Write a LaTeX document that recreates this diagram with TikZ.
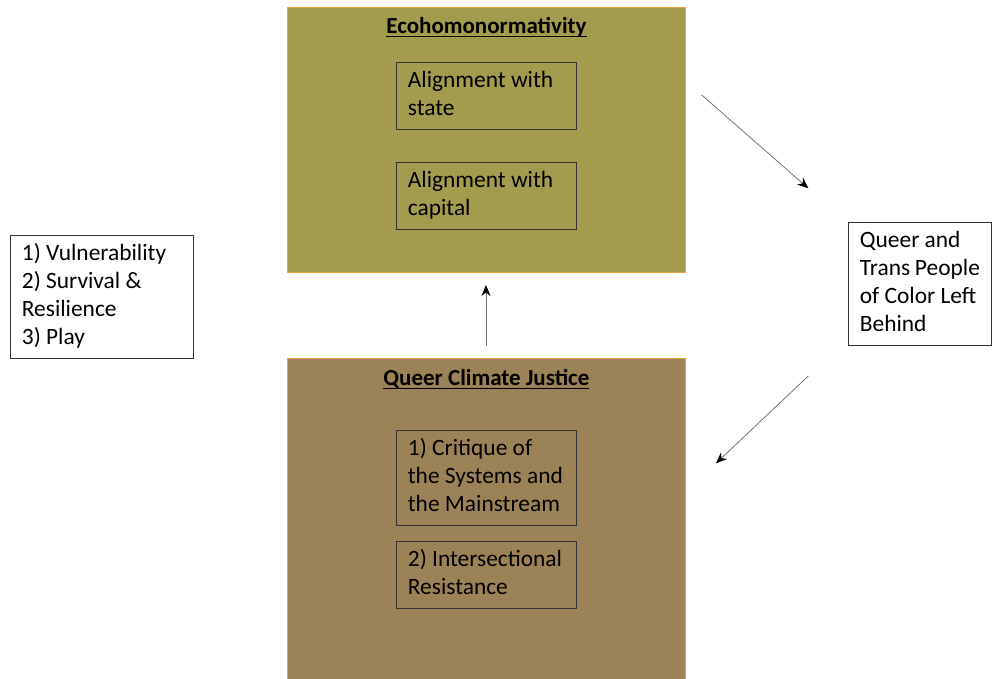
\documentclass[tikz,border=0pt]{standalone}
\usepackage{fontspec}
\setmainfont{Carlito}
\usetikzlibrary{arrows.meta,positioning}

\definecolor{ecofill}{RGB}{163,156,79}
\definecolor{qcjfill}{RGB}{156,131,87}
\definecolor{frameorange}{RGB}{240,160,60}
\newcommand{\headline}[1]{\setbox0\hbox{#1}\rlap{\rule[-3.5pt]{\wd0}{1.3pt}}\box0}

\tikzset{
  bigbox/.style={draw=frameorange, line width=0.9pt, inner sep=0pt, minimum width=398pt, anchor=north west},
  heading/.style={font=\fontsize{23}{28}\selectfont\bfseries, inner sep=0pt, anchor=base},
  txtbox/.style={draw=black!80, line width=0.8pt, align=flush left, text width=#1, inner xsep=11.5pt, inner ysep=5.5pt,
    anchor=north west, font=\fontsize{23.4}{28}\selectfont,
    execute at begin node=\strut, execute at end node=\strut},
}

\begin{document}
\begin{tikzpicture}[x=1pt, y=-1pt, ->, >={Stealth[length=11pt, width=9pt, color=black, fill=black]},
  every edge/.style={draw=gray!90!black, line width=0.8pt}]
\useasboundingbox (0,0) rectangle (992,679);
\node[bigbox, fill=ecofill, minimum height=265pt] (eco) at (287,7) {};
\node[bigbox, fill=qcjfill, minimum height=322pt] (qcj) at (287,358) {};
\node[heading] (ecoT) at ([yshift=-26.5pt]eco.north) {\headline{Ecohomonormativity}};
\node[heading] (qcjT) at ([yshift=-27.5pt]qcj.north) {\headline{Queer Climate Justice}};
\node[txtbox=157pt] (state) at (396,62) {Alignment with\\state};
\node[txtbox=157pt] (capital) at (396,162) {Alignment with\\capital};
\node[txtbox=157pt] (critique) at (396,430) {1) Critique of\\the Systems and\\the Mainstream};
\node[txtbox=157pt] (resist) at (396,541) {2) Intersectional\\Resistance};
\node[txtbox=160pt] (themes) at (10,235) {1) Vulnerability\\2) Survival \&\\Resilience\\3) Play};
\node[txtbox=120pt] (behind) at (848,222) {Queer and\\Trans People\\of Color Left\\Behind};
\coordinate (upS) at (486,346);
\coordinate (upE) at (486,285);
\coordinate (dgAs) at (701.7,95);
\coordinate (dgAe) at (808.3,188.3);
\coordinate (dgBs) at (808.3,376);
\coordinate (dgBe) at (716,463.3);
\path (upS) edge (upE);
\path (dgAs) edge (dgAe);
\path (dgBs) edge (dgBe);
\end{tikzpicture}
\end{document}
